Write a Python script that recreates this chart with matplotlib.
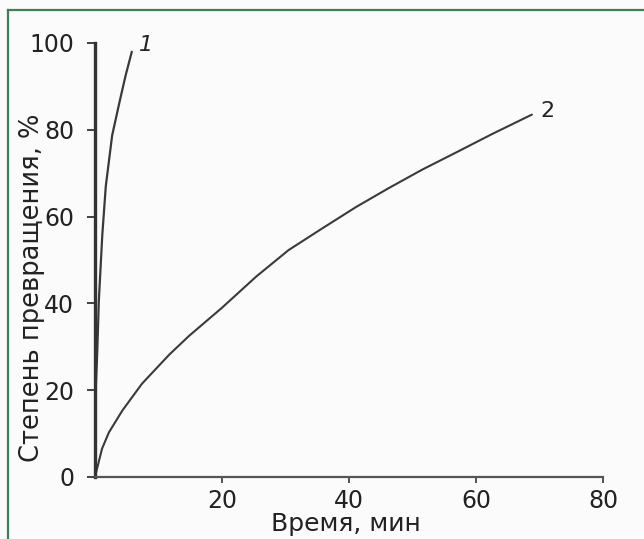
import matplotlib
matplotlib.use("Agg")
import matplotlib.pyplot as plt
from matplotlib.lines import Line2D

plt.rcParams['font.family'] = ['DejaVu Sans']

# Data
curve1_t = [0, 0.1, 0.15, 0.36, 0.6, 1.15, 1.7, 2.7, 3.8, 4.8, 5.8]
curve1_y = [0, 10, 21.5, 29, 40.5, 55.8, 67, 78.7, 86, 92.4, 98]
curve2_t = [0, 1.1, 2.2, 4.3, 7.4, 11.7, 14.8, 20, 25.4, 30.5, 35.7, 41.1, 46.3, 51.5, 56.9, 62.5, 68.8]
curve2_y = [0, 6.5, 10.3, 15.3, 21.5, 28.2, 32.5, 39, 46.2, 52.3, 57.2, 62.2, 66.6, 70.8, 74.8, 79.0, 83.5]
curve_labels = ['1', '2']
x_ticks = [20, 40, 60, 80]
y_ticks = [0, 20, 40, 60, 80, 100]
x_label = 'Время, мин'
y_label = 'Степень превращения, %'

W, H = 644, 539
fig = plt.figure(figsize=(W / 100, H / 100), dpi=100)
fig.patch.set_facecolor('#fbfbfb')

ax = fig.add_axes([95 / W, 1 - 477 / H, (603 - 95) / W, (477 - 43) / H])
ax.set_facecolor('none')
ax.set_xlim(0, 80)
ax.set_ylim(0, 100)

line_col = '#3a3a3a'
ax.plot(curve1_t, curve1_y, color=line_col, lw=1.6, solid_capstyle='round',
        solid_joinstyle='round')
ax.plot(curve2_t, curve2_y, color=line_col, lw=1.5, solid_capstyle='round',
        solid_joinstyle='round')

ax.text(8.0, 99.5, curve_labels[0], fontsize=16, style='italic', color='#222222',
        ha='center', va='center')
ax.text(71.3, 84.3, curve_labels[1], fontsize=16, color='#222222',
        ha='center', va='center')

for s in ['top', 'right']:
    ax.spines[s].set_visible(False)
ax.spines['left'].set_linewidth(2.4)
ax.spines['left'].set_color('#333333')
ax.spines['bottom'].set_linewidth(1.6)
ax.spines['bottom'].set_color('#555555')

ax.set_xticks(x_ticks)
ax.set_yticks(y_ticks)
ax.tick_params(axis='y', direction='out', length=6, width=1.3, pad=9,
               labelsize=17, colors='#333333', labelcolor='#222222')
ax.tick_params(axis='x', direction='out', length=4, width=1.3, pad=5,
               labelsize=17, colors='#444444', labelcolor='#222222')

fig.text(346 / W, 1 - 531 / H, x_label, fontsize=18, color='#222222',
         ha='center', va='baseline')
fig.text(32 / W, 1 - 288 / H, y_label, fontsize=18.5, color='#222222',
         ha='center', va='center', rotation=90)

# green frame (top and left edges)
green = '#3d7f57'
fig.add_artist(Line2D([8 / W, 8 / W], [0, 1 - 10 / H], color=green, lw=1.6,
                      transform=fig.transFigure))
fig.add_artist(Line2D([8 / W, 1], [1 - 10 / H, 1 - 10 / H], color=green, lw=1.6,
                      transform=fig.transFigure))

fig.savefig('out.png', dpi=100, facecolor=fig.get_facecolor())
